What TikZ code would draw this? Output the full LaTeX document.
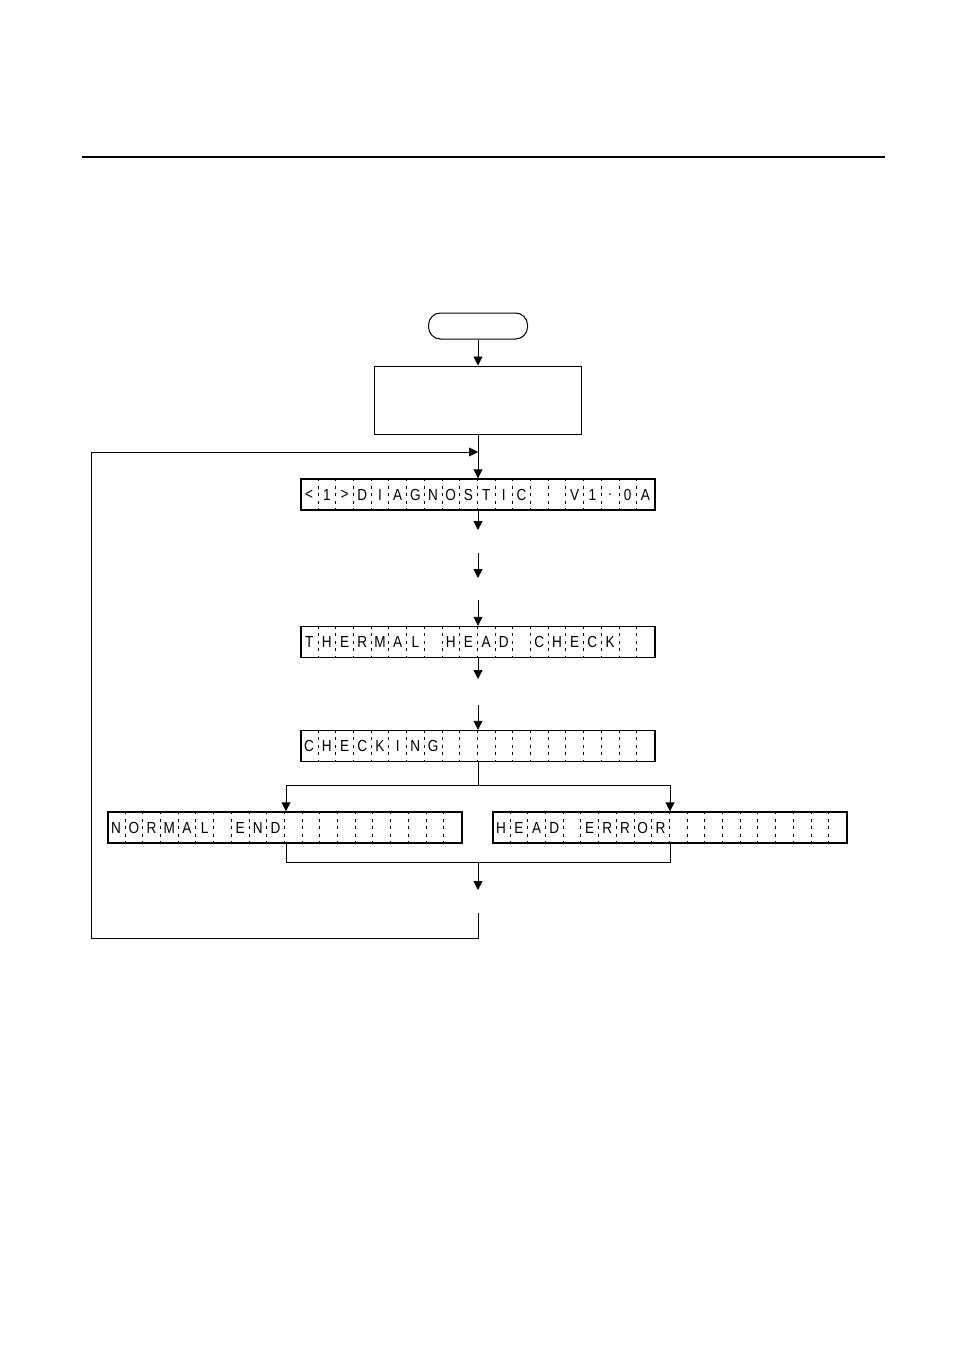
\documentclass[tikz,border=0pt]{standalone}
\usepackage{fontspec}
\setsansfont{Liberation Sans}
\usetikzlibrary{arrows.meta}
\tikzset{
 ar/.style={-{Triangle[length=9pt,width=9pt]},line width=0.9pt},
 ln/.style={line width=0.9pt},
 lcdframe/.style={draw,line width=1.4pt,minimum width=354pt,minimum height=31pt,inner sep=0pt},
}
\newcommand{\lcdtext}[2]{% #1 node name, #2 chars
 \foreach \ch [count=\i] in {#2}{
   \node[font=\sffamily\fontsize{16}{16}\selectfont,anchor=center,xscale=0.85] at ([xshift={(\i-0.5)*17.7pt}]#1.west) {\ch};
 }
 \foreach \i in {1,...,19}{
   \draw[line width=0.7pt,dash pattern=on 3pt off 4.5pt] ([xshift={\i*17.7pt}]#1.north west) -- ([xshift={\i*17.7pt}]#1.south west);
 }
}
\begin{document}
\begin{tikzpicture}[x=1pt,y=-1pt]
\useasboundingbox (0,0) rectangle (954,1348);
\draw[line width=2.5pt] (82,157) -- (885,157);
\node[draw,rounded corners=12pt,line width=1pt,minimum width=99pt,minimum height=26pt] (start) at (478,326) {};
\node[draw,line width=1pt,minimum width=207pt,minimum height=68pt] (proc) at (478,400) {};
\node[lcdframe] (l1) at (478,494.5) {};
\node[lcdframe] (l2) at (478,642) {};
\node[lcdframe] (l3) at (478,746) {};
\node[lcdframe] (l4) at (285,827.5) {};
\node[lcdframe] (l5) at (670,827.5) {};
\lcdtext{l1}{<,1,>,D,I,A,G,N,O,S,T,I,C,{},{},V,1,{.},0,A}
\lcdtext{l2}{T,H,E,R,M,A,L,{},H,E,A,D,{},C,H,E,C,K,{},{}}
\lcdtext{l3}{C,H,E,C,K,I,N,G,{},{},{},{},{},{},{},{},{},{},{},{}}
\lcdtext{l4}{N,O,R,M,A,L,{},E,N,D,{},{},{},{},{},{},{},{},{},{}}
\lcdtext{l5}{H,E,A,D,{},E,R,R,O,R,{},{},{},{},{},{},{},{},{},{}}
\coordinate (a1) at (478,530); \coordinate (b2) at (478,553); \coordinate (b2e) at (478,578);
\coordinate (b3) at (478,600);
\coordinate (c1) at (478,679); \coordinate (c2) at (478,705);
\coordinate (sp) at (478,785); \coordinate (spl) at (286,785); \coordinate (spr) at (670,785);
\coordinate (jl) at (286,862); \coordinate (jr) at (670,862); \coordinate (jm) at (478,862);
\coordinate (d1) at (478,890); \coordinate (e1) at (478,913); \coordinate (e2) at (478,938);
\coordinate (f1) at (91,938); \coordinate (f2) at (91,452); \coordinate (f3) at (478,452);
\draw[ar] (start) -- (proc);
\draw[ar] (proc) -- (l1);
\draw[ar] (l1) -- (a1);
\draw[ar] (b2) -- (b2e);
\draw[ar] (b3) -- (l2);
\draw[ar] (l2) -- (c1);
\draw[ar] (c2) -- (l3);
\draw[ln] (l3) -- (sp) -- (spl); \draw[ln] (sp) -- (spr);
\draw[ar] (spl) -- (l4.north -| spl);
\draw[ar] (spr) -- (l5.north -| spr);
\draw[ln] (l4.south -| jl) -- (jl) -- (jr) -- (l5.south -| jr);
\draw[ar] (jm) -- (d1);
\draw[ln] (e1) -- (e2) -- (f1) -- (f2);
\draw[ar] (f2) -- (f3);
\end{tikzpicture}
\end{document}
